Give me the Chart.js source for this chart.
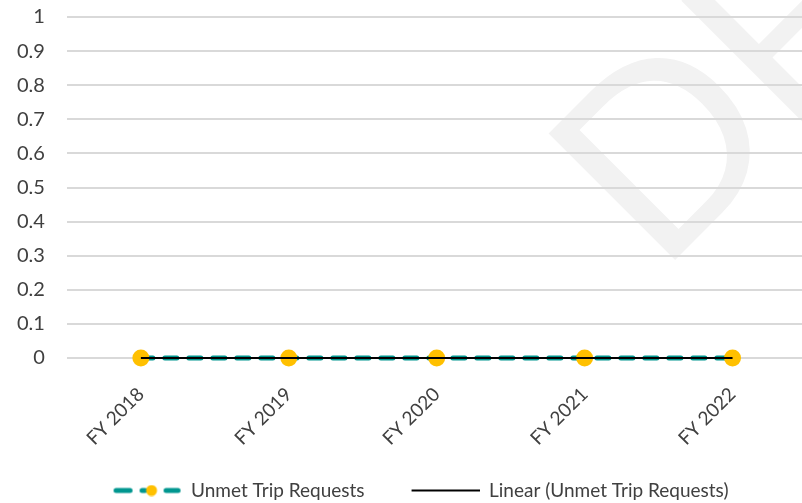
<!DOCTYPE html>
<html>
<head>
<meta charset="utf-8">
<script src="https://cdn.jsdelivr.net/npm/chart.js@4"></script>
<style>
  html, body { margin: 0; padding: 0; background: #fff; overflow: hidden; }
  #wrap { width: 815px; height: 510px; }
</style>
</head>
<body>
<div id="wrap"><canvas id="chart"></canvas></div>
<script>
const categories = ['FY 2018', 'FY 2019', 'FY 2020', 'FY 2021', 'FY 2022'];
const unmetTrips = [0, 0, 0, 0, 0];
const unmetTrend = [0, 0, 0, 0, 0];
const yTicks = [0, 0.1, 0.2, 0.3, 0.4, 0.5, 0.6, 0.7, 0.8, 0.9, 1];

const TEAL = '#00968f';
const GOLD = '#ffc000';
const TEXT = '#404040';

// legend swatches (blank lead-in, then the marker)
const swatch = (draw) => {
  const c = document.createElement('canvas');
  c.width = 83; c.height = 12;
  draw(c.getContext('2d'));
  return c;
};
const dashSwatch = swatch((g) => {
  g.strokeStyle = TEAL; g.lineWidth = 5; g.lineCap = 'round';
  [[17.5, 31.5], [43.5, 46.5], [67.5, 79.5]].forEach(([a, b]) => { g.beginPath(); g.moveTo(a, 6); g.lineTo(b, 6); g.stroke(); });
  g.fillStyle = GOLD; g.beginPath(); g.arc(53, 6, 5.5, 0, Math.PI * 2); g.fill();
});
const lineSwatch = swatch((g) => {
  g.strokeStyle = '#000'; g.lineWidth = 2;
  g.beginPath(); g.moveTo(15, 6); g.lineTo(83, 6); g.stroke();
});

const watermark = {
  id: 'watermark',
  beforeDraw(chart) {
    const ctx = chart.ctx;
    ctx.save();
    ctx.translate(660, 275);
    ctx.rotate(-Math.PI / 4);
    ctx.font = '260px "Liberation Sans"';
    ctx.fillStyle = '#f2f2f2';
    ctx.textBaseline = 'alphabetic';
    ctx.fillText('DRAFT', 0, 0);
    ctx.restore();
  }
};

new Chart(document.getElementById('chart'), {
  type: 'line',
  data: {
    labels: categories,
    datasets: [
      { label: 'Unmet Trip Requests', data: unmetTrips, borderColor: TEAL, borderWidth: 5, borderDash: [12, 12],
        borderCapStyle: 'round', pointRadius: 8.5, pointBackgroundColor: GOLD, pointBorderColor: GOLD, pointBorderWidth: 0,
        fill: false, clip: false, order: 1 },
      { label: 'Linear (Unmet Trip Requests)', data: unmetTrend, borderColor: '#000', borderWidth: 2,
        pointRadius: 0, fill: false, clip: false, order: 0 }
    ]
  },
  options: {
    responsive: true,
    maintainAspectRatio: false,
    animation: false,
    layout: { padding: { top: 0, right: 0, left: 12, bottom: 0 } },
    scales: {
      x: {
        offset: true,
        grid: { display: false },
        border: { display: false },
        ticks: { color: TEXT, font: { family: 'Lato', size: 19 }, minRotation: 45, maxRotation: 45, padding: 17 },
        afterFit: (s) => { s.height = 91; }
      },
      y: {
        min: 0, max: 1,
        afterBuildTicks: (s) => { s.ticks = yTicks.map(v => ({ value: v })); },
        grid: { color: '#d9d9d9', lineWidth: 2, drawTicks: true, tickLength: 17, tickColor: 'rgba(0,0,0,0)' },
        border: { display: false },
        ticks: { color: TEXT, font: { family: 'Lato', size: 20 }, padding: 5, callback: (v) => String(v) }
      }
    },
    plugins: {
      tooltip: { enabled: false },
      legend: {
        position: 'bottom',
        labels: {
          color: TEXT,
          font: { family: 'Lato', size: 19 },
          usePointStyle: true,
          pointStyleWidth: 83,
          padding: 32,
          sort: (a, b) => a.datasetIndex - b.datasetIndex,
          generateLabels: (chart) => chart.data.datasets.map((d, i) => ({
            text: d.label, datasetIndex: i, fontColor: TEXT, lineWidth: 0,
            pointStyle: i === 0 ? dashSwatch : lineSwatch
          }))
        }
      }
    }
  },
  plugins: [watermark]
});
</script>
</body>
</html>
